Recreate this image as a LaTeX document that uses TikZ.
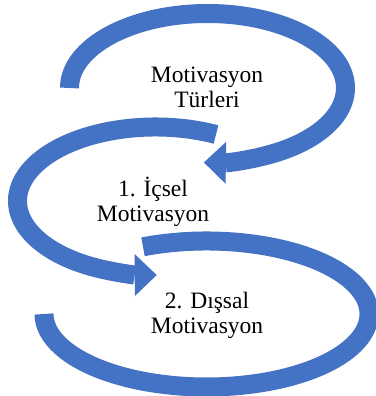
\documentclass[tikz,border=0pt]{standalone}
\usepackage{fontspec}
\setmainfont{Liberation Serif}
\usetikzlibrary{arrows.meta}
\definecolor{flowblue}{HTML}{4472C4}
\tikzset{
  loopar/.style={draw=flowblue, line width=19pt, line cap=butt,
    -{Triangle[length=22pt,width=42pt,line width=0pt]}},
  loopend/.style={draw=flowblue, line width=19pt, line cap=butt},
  kind/.style={align=center, inner sep=0pt, font=\fontsize{23.5}{25}\selectfont}
}

\begin{document}
\begin{tikzpicture}[x=1pt, y=1pt]
  \useasboundingbox (0,0) rectangle (375,396);
  \coordinate (c1) at (207.5,308);
  \coordinate (c2) at (155.5,195);
  \coordinate (c3) at (206.5,82);
  \draw[loopar] (c1) ++(180:138pt and 74.5pt)
    arc[start angle=180, end angle=-91.5, x radius=138pt, y radius=74.5pt];
  \draw[loopar] (c2) ++(64:138pt and 74pt)
    arc[start angle=64, end angle=270.5, x radius=138pt, y radius=74pt];
  \draw[loopend] (c3) ++(113:162.5pt and 73pt)
    arc[start angle=113, end angle=-180, x radius=162.5pt, y radius=73pt];
  \node[kind, anchor=base] (types) at (207,288) {Motivasyon\\Türleri};
  \node[kind, anchor=base] (inner) at (153,174) {1. İçsel\\Motivasyon};
  \node[kind, anchor=base] (outer) at (207,62) {2. Dışsal\\Motivasyon};
\end{tikzpicture}
\end{document}
